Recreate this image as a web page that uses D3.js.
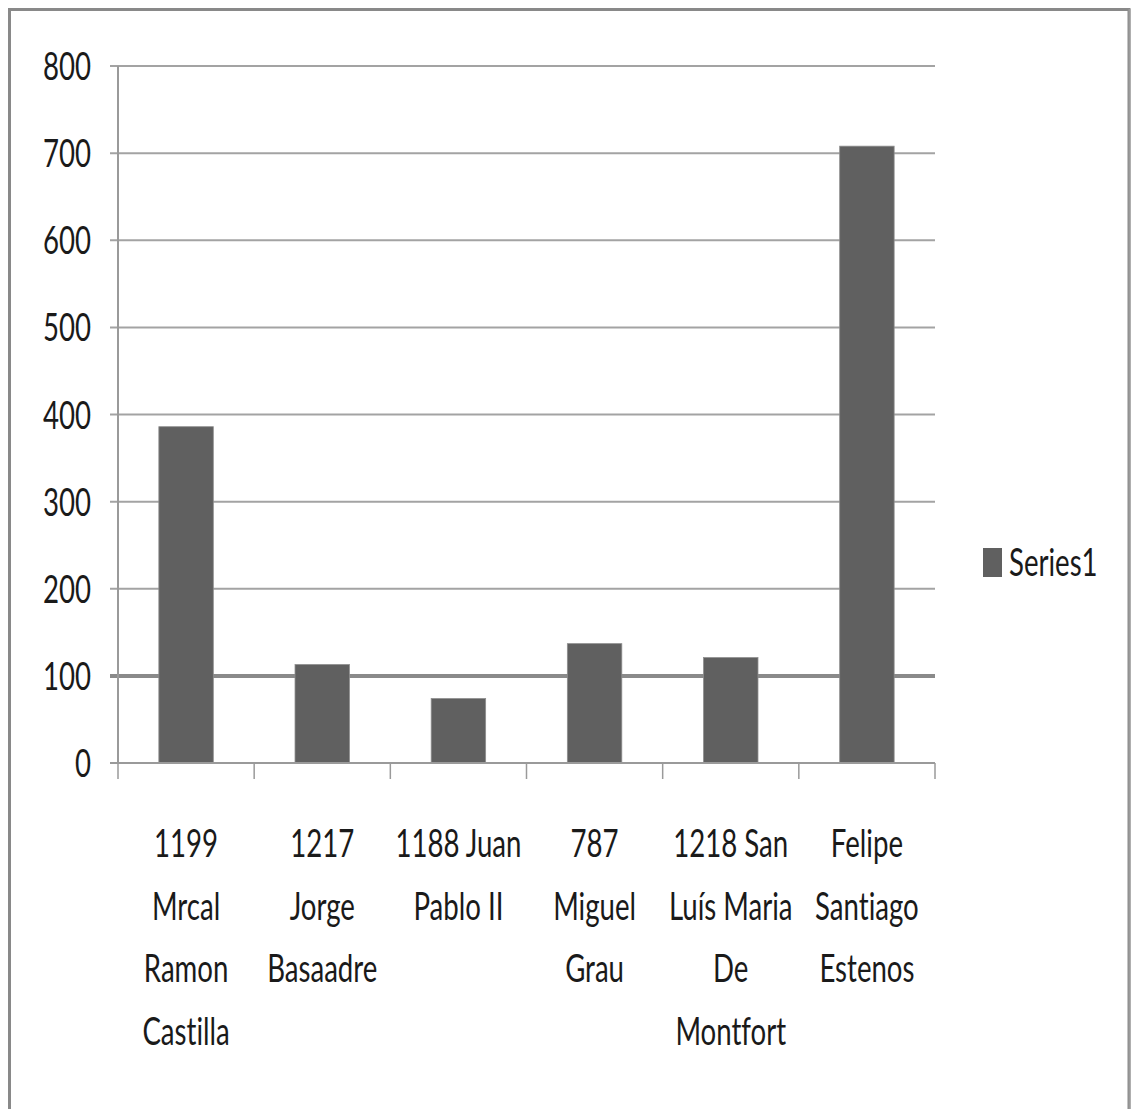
<!DOCTYPE html>
<html>
<head>
<meta charset="utf-8">
<script src="https://cdn.jsdelivr.net/npm/d3@7"></script>
<style>
html,body{margin:0;padding:0;background:#fff;}
svg{display:block;}
text{font-variant-ligatures:none;font-feature-settings:"liga" 0;}
</style>
</head>
<body>
<svg id="chart" width="1131" height="1109"></svg>
<script>
const categories = [
  ["1199", "Mrcal", "Ramon", "Castilla"],
  ["1217", "Jorge", "Basaadre"],
  ["1188 Juan", "Pablo II"],
  ["787", "Miguel", "Grau"],
  ["1218 San", "Luís Maria", "De", "Montfort"],
  ["Felipe", "Santiago", "Estenos"]
];
const categoryKeys = ["c1","c2","c3","c4","c5","c6"];
const series1 = [386, 113, 74, 137, 121, 708];
const yTicks = [0, 100, 200, 300, 400, 500, 600, 700, 800];
const seriesName = "Series1";

(function () {
const svg = d3.select("#chart");
const W = 1131, H = 1109;
const pLeft = 118, pRight = 935, pTop = 66, pBottom = 763;
const FONT = "Lato, 'Open Sans', sans-serif";
const FS = 30, SX = 0.92, SY = 1.3;

// frame
svg.append("rect").attr("x", 9.5).attr("y", 9.5).attr("width", 1119.5).attr("height", H + 20)
  .attr("fill", "none").attr("stroke", "#898989").attr("stroke-width", 3);
svg.append("line").attr("x1", 1129.5).attr("x2", 1129.5).attr("y1", 9).attr("y2", H)
  .attr("stroke", "#9a9a9a").attr("stroke-width", 2);

const x = d3.scaleBand().domain(categoryKeys).range([pLeft, pRight]).paddingInner(0).paddingOuter(0);
const y = d3.scaleLinear().domain([0, 800]).range([pBottom, pTop]);
const barW = x.bandwidth() / 2.5;

// gridlines
svg.append("g").selectAll("line").data(yTicks.filter(d => d > 0)).join("line")
  .attr("x1", pLeft - 8).attr("x2", pRight)
  .attr("y1", d => y(d)).attr("y2", d => y(d))
  .attr("stroke", d => d === 100 ? "#8a8a8a" : "#a3a3a3")
  .attr("stroke-width", d => d === 100 ? 4 : 2);

// bars
svg.append("g").selectAll("rect").data(series1).join("rect")
  .attr("x", (d, i) => x(categoryKeys[i]) + (x.bandwidth() - barW) / 2)
  .attr("width", barW)
  .attr("y", d => y(d))
  .attr("height", d => y(0) - y(d))
  .attr("fill", "#606060")
  .attr("stroke", "#8e8e8e").attr("stroke-width", 0.8);

// y axis line
svg.append("line").attr("x1", pLeft).attr("x2", pLeft).attr("y1", pTop).attr("y2", pBottom + 1)
  .attr("stroke", "#9a9a9a").attr("stroke-width", 2);
// x axis line
svg.append("line").attr("x1", pLeft - 8).attr("x2", pRight).attr("y1", pBottom).attr("y2", pBottom)
  .attr("stroke", "#9a9a9a").attr("stroke-width", 2);
// x ticks at band boundaries
const bounds = categoryKeys.map(k => x(k)).concat([pRight]);
svg.append("g").selectAll("line").data(bounds).join("line")
  .attr("x1", d => d).attr("x2", d => d).attr("y1", pBottom).attr("y2", pBottom + 16)
  .attr("stroke", "#9a9a9a").attr("stroke-width", 1.5);

function scaledText(g, tx, ty, txt, anchor) {
  g.append("text")
    .attr("transform", `translate(${tx},${ty}) scale(${SX},${SY})`)
    .attr("text-anchor", anchor)
    .attr("font-family", FONT).attr("font-size", FS)
    .attr("fill", "#1a1a1a")
    .text(txt);
}

// y tick labels
const yl = svg.append("g");
yTicks.forEach(t => scaledText(yl, 91, y(t) + 14, String(t), "end"));

// category labels
const xl = svg.append("g");
categories.forEach((lines, i) => {
  const cx = x(categoryKeys[i]) + x.bandwidth() / 2;
  lines.forEach((ln, j) => scaledText(xl, cx, 857 + j * 62.5, ln, "middle"));
});

// legend
svg.append("rect").attr("x", 983).attr("y", 548).attr("width", 19).attr("height", 29).attr("fill", "#606060");
scaledText(svg, 1009, 576, seriesName, "start");
})();
</script>
</body>
</html>
